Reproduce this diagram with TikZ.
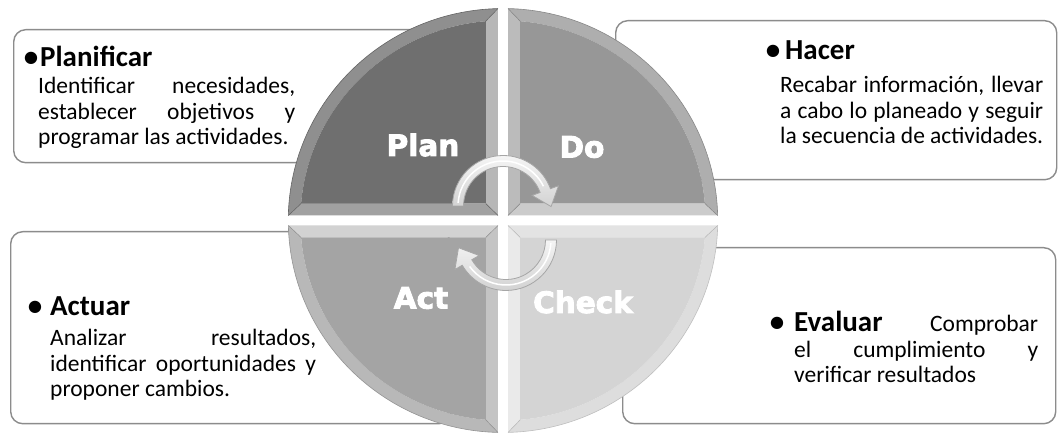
\documentclass[tikz,border=0pt]{standalone}
\usepackage{fontspec}
\setmainfont{Carlito}
\newfontfamily\heavyfont[BoldFeatures={FakeBold=3}]{DejaVu Sans}
\usetikzlibrary{calc}

\definecolor{planface}{HTML}{6F6F6F}
\definecolor{doface}{HTML}{979797}
\definecolor{actface}{HTML}{A4A4A4}
\definecolor{checkface}{HTML}{D4D4D4}

% one slab of the wheel: rotation, face colour
\newcommand{\wheelpart}[2]{%
  \begin{scope}[shift={(503,212.5)}, xscale=1.013, rotate=#1]
    \fill[#2!78!white] (-5,211.9) arc[start angle=91.35, end angle=178.65, radius=212] -- (-199.3,17) arc[start angle=175.14, end angle=94.86, radius=200] -- cycle;
    \fill[#2!50!white] (-5,5) -- (-5,211.9) -- (-17,199.3) -- (-17,17) -- cycle;
    \fill[#2!65!white] (-5,5) -- (-211.9,5) -- (-199.3,17) -- (-17,17) -- cycle;
    \fill[#2] (-17,17) -- (-17,199.3) arc[start angle=94.86, end angle=175.14, radius=200] -- cycle;
    \draw[#2!85!black, line width=0.5pt] (-5,5) -- (-17,17) (-5,211.9) -- (-17,199.3) (-211.9,5) -- (-199.3,17);
    \draw[#2!90!black, line width=0.6pt] (-5,211.9) arc[start angle=91.35, end angle=178.65, radius=212];
  \end{scope}}

\begin{document}
\begin{tikzpicture}[x=1pt, y=1pt,
  card/.style={draw=gray!90, line width=1.4pt, rounded corners=12pt, fill=white, anchor=north west, inner sep=0pt},
  ttl/.style={font=\bfseries\fontsize{29}{31}\selectfont, anchor=base west, inner sep=0pt},
  txt/.style={font=\fontsize{23.5}{25.5}\selectfont, align=justify, anchor=base west, inner sep=0pt},
  lbl/.style={font=\heavyfont\bfseries\fontsize{29.5}{29.5}\selectfont, text=white, inner sep=0pt},
  turn/.style={draw=gray!70, line width=0.8pt, top color=gray!8, bottom color=gray!35}]
\useasboundingbox (0,0) rectangle (1059,433);
\fill[white] (0,0) rectangle (1059,433);

\node[card, minimum width=437pt, minimum height=133pt] (planbox) at (13,404) {};
\node[card, minimum width=441pt, minimum height=159pt] (dobox) at (615,413) {};
\node[card, minimum width=440pt, minimum height=192pt] (actbox) at (10,202) {};
\node[card, minimum width=433pt, minimum height=176pt] (checkbox) at (622,186) {};

\node[ttl] (plantitle) at (40,366) {\llap{\textbullet\hspace{2pt}}Planificar};
\node[txt, text width=257pt] (plantext) at (38,339) {Identificar necesidades,\linebreak establecer objetivos y\linebreak programar las actividades.};
\node[ttl] (dotitle) at (785,373) {\llap{\textbullet\hspace{5pt}}Hacer};
\node[txt, text width=263pt] (dotext) at (780,340) {Recabar información, llevar\linebreak a cabo lo planeado y seguir\linebreak la secuencia de actividades.};
\node[ttl] (acttitle) at (50,117) {\llap{\textbullet\hspace{8pt}}Actuar};
\node[txt, text width=266pt] (acttext) at (50,87) {Analizar resultados,\linebreak identificar oportunidades y\linebreak proponer cambios.};
\node[txt, text width=244pt] (checktext) at (794,101) {{\bfseries\fontsize{29}{25.5}\selectfont\llap{\textbullet\hspace{10pt}}Evaluar} Comprobar\linebreak el cumplimiento y\linebreak verificar resultados};

\wheelpart{0}{planface}
\wheelpart{-90}{doface}
\wheelpart{90}{actface}
\wheelpart{180}{checkface}

\node[lbl] (plan) at (423,288) {Plan};
\node[lbl] (do) at (582,286) {Do};
\node[lbl] (act) at (421,135) {Act};
\node[lbl] (check) at (583,131) {Check};

\coordinate (t) at (503,227);
\coordinate (b) at (506,193);
\draw[turn] ($(t)+(180:50.5)$) arc[start angle=180, end angle=20, radius=50.5] -- ($(t)+(20:59)$) -- ($(t)+(20:45)+(-70:17)$) -- ($(t)+(20:31)$) -- ($(t)+(20:39.5)$) arc[start angle=20, end angle=180, radius=39.5] -- cycle;
\draw[white, line width=1.5pt] ($(t)+(176:45)$) arc[start angle=176, end angle=26, radius=45];
\draw[turn] ($(b)+(0:50.5)$) arc[start angle=0, end angle=-150, radius=50.5] -- ($(b)+(-150:59)$) -- ($(b)+(-150:45)+(120:17)$) -- ($(b)+(-150:31)$) -- ($(b)+(-150:39.5)$) arc[start angle=-150, end angle=0, radius=39.5] -- cycle;
\draw[white, line width=1.5pt] ($(b)+(-4:45)$) arc[start angle=-4, end angle=-144, radius=45];
\end{tikzpicture}
\end{document}
